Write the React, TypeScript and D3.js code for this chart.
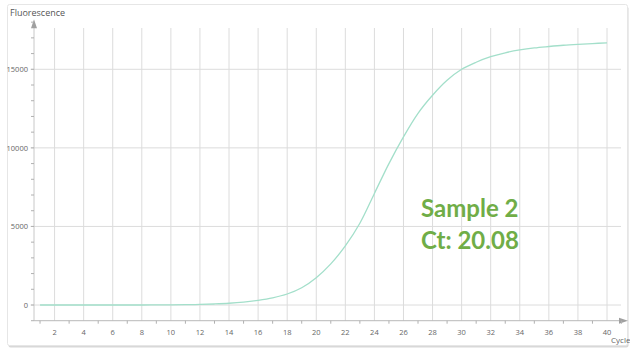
import React from "react";
import * as d3 from "d3";

const cycles = d3.range(1, 41);
const fluorescence = [
  0, 0, 0, 0, 0, 0, 0, 0, 5, 10,
  20, 35, 65, 110, 185, 300, 460, 700, 1100, 1740,
  2620, 3760, 5200, 7100, 9000, 10700, 12200, 13350, 14300, 15000,
  15450, 15800, 16050, 16230, 16360, 16450, 16530, 16590, 16640, 16680,
];
const yMajorTicks = [0, 5000, 10000, 15000];
const yMinorTicks = d3.range(-1000, 18001, 1000);
const xMajorTicks = d3.range(2, 41, 2);
const xMinorTicks = d3.range(1, 42, 2);
const sampleName = "Sample 2";
const ctLabel = "Ct: 20.08";

const width = 630;
const height = 350;

const App = () => {
  const x = d3.scaleLinear().domain([0, 40]).range([25.5, 607]);
  const y = d3.scaleLinear().domain([0, 15000]).range([305, 69.3]);

  const axisX = 34;
  const axisY = y(-1000);
  const topY = y(18000);

  const points = cycles.map((c, i) => ({ c, v: fluorescence[i] }));
  const line = d3
    .line<{ c: number; v: number }>()
    .x((d) => x(d.c))
    .y((d) => y(d.v))
    .curve(d3.curveCatmullRom.alpha(0.5));

  const tickFont = "'Open Sans', sans-serif";

  return (
    <svg
      width={width}
      height={height}
      style={{ position: "absolute", left: 0, top: 0, background: "#fff" }}
    >
      <rect x={0} y={0} width={width} height={height} fill="#fff" />
      {/* card */}
      <rect x={8.5} y={6.5} width={620} height={341} fill="#d8d8d8" rx={2} />
      <rect x={7.5} y={4.5} width={620} height={341} fill="#fff" stroke="#e6e6e6" rx={2} />

      <text x={10} y={16} fontSize={9} fill="#555" fontFamily={tickFont}>
        Fluorescence
      </text>

      {/* vertical grid */}
      {xMajorTicks.map((t) => (
        <line
          key={"vx" + t}
          x1={x(t)}
          x2={x(t)}
          y1={28}
          y2={axisY}
          stroke="#dcdcdc"
          strokeWidth={1}
        />
      ))}
      {/* horizontal grid */}
      {yMajorTicks.map((t) => (
        <line
          key={"hy" + t}
          x1={30.5}
          x2={621}
          y1={y(t)}
          y2={y(t)}
          stroke="#dcdcdc"
          strokeWidth={1}
        />
      ))}

      {/* y axis */}
      <line x1={axisX} x2={axisX} y1={topY + 4} y2={axisY} stroke="#c8c8c8" />
      <path
        d={`M${axisX - 3},${topY + 6} L${axisX},${topY - 3} L${axisX + 3},${topY + 6} Z`}
        fill="#a0a0a0"
      />
      {yMinorTicks.map((t) => (
        <line
          key={"my" + t}
          x1={axisX - 3}
          x2={axisX}
          y1={y(t)}
          y2={y(t)}
          stroke="#b0b0b0"
        />
      ))}
      {yMajorTicks.map((t) => (
        <text
          key={"ly" + t}
          x={28}
          y={y(t) + 3}
          textAnchor="end"
          fontSize={7.5}
          fill="#666"
          fontFamily={tickFont}
        >
          {t}
        </text>
      ))}

      {/* x axis */}
      <line x1={axisX} x2={621} y1={axisY} y2={axisY} stroke="#b8b8b8" />
      <path
        d={`M619,${axisY - 3} L628,${axisY} L619,${axisY + 3} Z`}
        fill="#a0a0a0"
      />
      {xMinorTicks.map((t) => (
        <line
          key={"mx" + t}
          x1={x(t)}
          x2={x(t)}
          y1={axisY}
          y2={axisY + 3}
          stroke="#b0b0b0"
        />
      ))}
      {xMajorTicks.map((t) => (
        <text
          key={"lx" + t}
          x={x(t)}
          y={334.5}
          textAnchor="middle"
          fontSize={7.5}
          fill="#666"
          fontFamily={tickFont}
        >
          {t}
        </text>
      ))}
      <text x={611} y={343} fontSize={8} fill="#666" fontFamily={tickFont}>
        Cycle
      </text>

      {/* curve */}
      <path
        d={line(points) || ""}
        fill="none"
        stroke="#a3dfca"
        strokeWidth={1.3}
      />

      <text
        x={421}
        y={217}
        fontSize={24}
        fontWeight="bold"
        fill="#70ad47"
        fontFamily="Lato, sans-serif"
      >
        {sampleName}
      </text>
      <text
        x={421}
        y={248.5}
        fontSize={24}
        fontWeight="bold"
        fill="#70ad47"
        fontFamily="Lato, sans-serif"
      >
        {ctLabel}
      </text>
    </svg>
  );
};

export default App;
